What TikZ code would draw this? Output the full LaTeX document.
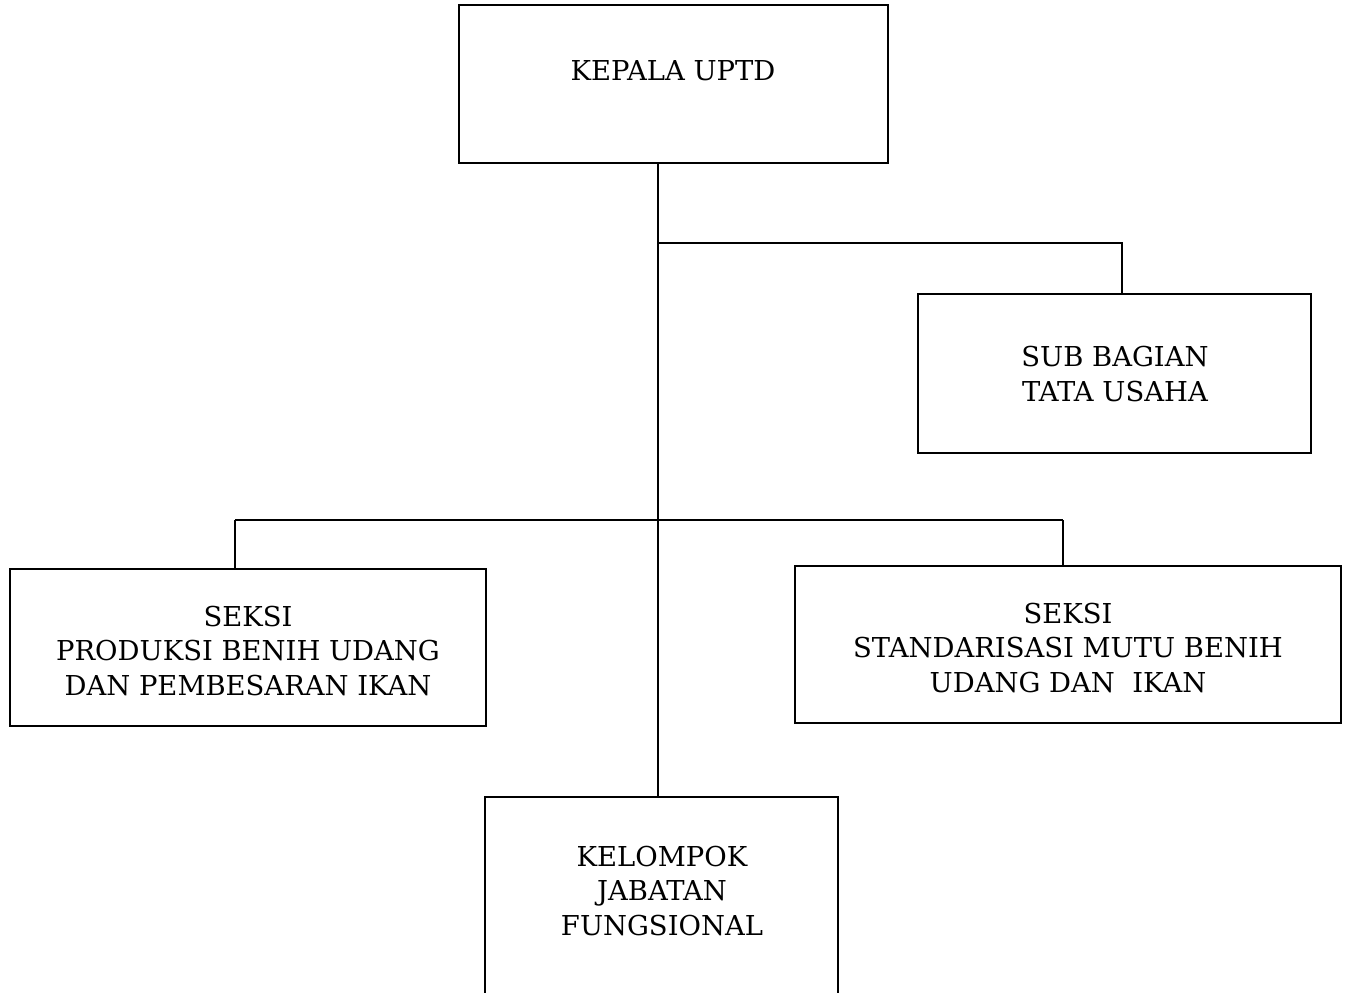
\documentclass[tikz,border=0pt]{standalone}
\usepackage{fontspec}
\setmainfont{DejaVu Serif}
\begin{document}
\begin{tikzpicture}[x=0.02cm,y=-0.02cm,
  box/.style={draw, line width=1.3pt, rectangle, inner sep=0pt},
  lbl/.style={align=center, font=\fontsize{15.6}{19.7}\selectfont, inner sep=0pt},
  conn/.style={line width=1.3pt}]
\useasboundingbox (0,0) rectangle (1347,992);
\clip (0,0) rectangle (1347,992);
% boxes
\node[box, minimum width=429*0.02cm, minimum height=158*0.02cm] (kepala) at (673.5,84) {};
\node[lbl] (kepalatxt) at (673,71) {KEPALA UPTD};
\node[box, minimum width=393*0.02cm, minimum height=159*0.02cm] (subbag) at (1114.5,373.5) {};
\node[lbl] (subbagtxt) at (1115,374) {SUB BAGIAN\\TATA USAHA};
\node[box, minimum width=476*0.02cm, minimum height=157*0.02cm] (seksi1) at (248,647.5) {};
\node[lbl] (seksi1txt) at (248,651) {SEKSI\\PRODUKSI BENIH UDANG\\DAN PEMBESARAN IKAN};
\node[box, minimum width=546*0.02cm, minimum height=157*0.02cm] (seksi2) at (1068,644.5) {};
\node[lbl] (seksi2txt) at (1068,648) {SEKSI\\STANDARISASI MUTU BENIH\\UDANG DAN\ \ IKAN};
\node[box, minimum width=353*0.02cm, minimum height=213*0.02cm] (kelompok) at (661.5,903.5) {};
\node[lbl] (kelompoktxt) at (662,891) {KELOMPOK\\JABATAN\\FUNGSIONAL};
% junctions
\coordinate (t1) at (658,243);
\coordinate (t2) at (658,520);
\coordinate (j1) at (1122,243);
\coordinate (j2) at (235,520);
\coordinate (j3) at (1063,520);
% connectors
\draw[conn] (kepala.south -| t1) -- (kelompok.north -| t1);
\draw[conn] (t1) -- (j1) -- (j1 |- subbag.north);
\draw[conn] (j2) -- (j3);
\draw[conn] (j2) -- (j2 |- seksi1.north);
\draw[conn] (j3) -- (j3 |- seksi2.north);
\end{tikzpicture}
\end{document}
